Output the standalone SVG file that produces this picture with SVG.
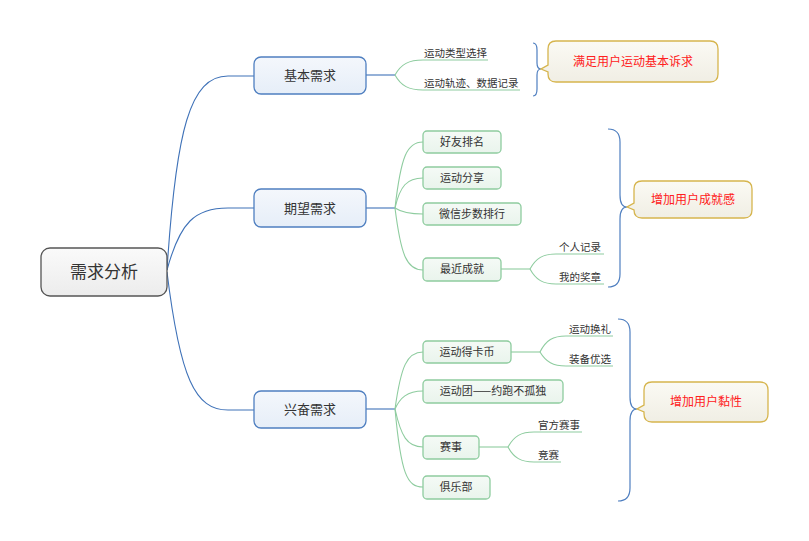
<svg xmlns="http://www.w3.org/2000/svg" width="809" height="541" viewBox="0 0 809 541">
<defs>
<linearGradient id="gRoot" x1="0" y1="0" x2="0" y2="1"><stop offset="0" stop-color="#fafafa"/><stop offset="1" stop-color="#ececec"/></linearGradient>
<linearGradient id="gMain" x1="0" y1="0" x2="0" y2="1"><stop offset="0" stop-color="#f4f7fc"/><stop offset="1" stop-color="#e6eef8"/></linearGradient>
<linearGradient id="gSub" x1="0" y1="0" x2="0" y2="1"><stop offset="0" stop-color="#f5faf6"/><stop offset="1" stop-color="#e9f4ec"/></linearGradient>
<linearGradient id="gNote" x1="0" y1="0" x2="0" y2="1"><stop offset="0" stop-color="#fbfaf4"/><stop offset="1" stop-color="#f0eee4"/></linearGradient>
</defs>
<style>
text{font-family:"Noto Sans CJK SC","Microsoft YaHei",sans-serif;fill:#333}
.root{fill:url(#gRoot);stroke:#555;stroke-width:1.3}
.main{fill:url(#gMain);stroke:#4f7fc0;stroke-width:1.3}
.sub{fill:url(#gSub);stroke:#8ecc9f;stroke-width:1.3}
.note{fill:url(#gNote);stroke:#d6b54e;stroke-width:1.3}
.l1{fill:none;stroke:#3f72b8;stroke-width:1.1}
.l2{fill:none;stroke:#8ecc9f;stroke-width:1.1}
.br{fill:none;stroke:#4f7fc0;stroke-width:1.2}
.t17{font-size:17px;text-anchor:middle}
.t13{font-size:13px;text-anchor:middle}
.t11{font-size:11px;text-anchor:middle}
.t10{font-size:10.5px}
.red{font-size:12px;text-anchor:middle;fill:#ff2020}
</style>
<rect width="809" height="541" fill="#fff"/>
<g id="connectors">
<path class="l1" d="M167,270 C176,130 190,76 228,76 L254,76"/>
<path class="l1" d="M167,270 C180,222 195,208 228,208 L254,208"/>
<path class="l1" d="M167,272 C180,378 195,410 228,410 L254,410"/>
<path class="l1" d="M366,75 L395,75"/>
<path class="l1" d="M366,208 L395,208"/>
<path class="l1" d="M366,409 L395,409"/>
<path class="l2" d="M395,75 C401,64 409,60 423,60 L488,60"/>
<path class="l2" d="M395,75 C401,86 409,90 423,90 L520,90"/>
<path class="l2" d="M395,208 C401,156 407,142 423,142"/>
<path class="l2" d="M395,208 C400,186 407,178 423,178"/>
<path class="l2" d="M395,208 C401,212 408,214 423,214"/>
<path class="l2" d="M395,208 C401,256 407,270 423,270"/>
<path class="l2" d="M501,269 L530,269"/>
<path class="l2" d="M530,269 C536,258 543,254 556,254 L604,254"/>
<path class="l2" d="M530,269 C536,280 543,284 556,284 L604,284"/>
<path class="l2" d="M395,409 C401,366 407,352 423,352"/>
<path class="l2" d="M395,409 C400,398 407,391 423,391"/>
<path class="l2" d="M395,409 C401,436 407,447 423,447"/>
<path class="l2" d="M395,409 C401,474 407,487 423,487"/>
<path class="l2" d="M511,352 L540,352"/>
<path class="l2" d="M540,352 C546,340 553,336 566,336 L613,336"/>
<path class="l2" d="M540,352 C546,362 553,366 566,366 L613,366"/>
<path class="l2" d="M479,447 L508,447"/>
<path class="l2" d="M508,447 C514,436 521,432 534,432 L582,432"/>
<path class="l2" d="M508,447 C514,458 521,462 534,462 L561,462"/>
</g>
<g id="brackets">
<path class="br" d="M533,43 Q537,43 537,50 L537,63 Q537,69 541,69 Q537,69 537,75 L537,89 Q537,96 533,96"/>
<path class="br" d="M608,129 Q620,129 620,142 L620,195 Q620,207 627,207 Q620,207 620,219 L620,274 Q620,287 608,287"/>
<path class="br" d="M618,319 Q630,319 630,332 L630,397 Q630,409 637,409 Q630,409 630,421 L630,488 Q630,501 618,501"/>
</g>
<g id="root"><rect class="root" x="41" y="248" width="126" height="48" rx="9"/><text class="t17" x="104" y="278">需求分析</text></g>
<g id="n-basic"><rect class="main" x="254" y="57" width="112" height="37" rx="7"/><text class="t13" x="310" y="80">基本需求</text></g>
<g id="n-expect"><rect class="main" x="254" y="189" width="112" height="38" rx="7"/><text class="t13" x="310" y="213">期望需求</text></g>
<g id="n-excite"><rect class="main" x="254" y="391" width="112" height="37" rx="7"/><text class="t13" x="310" y="414">兴奋需求</text></g>
<g id="l-type"><text class="t10" x="424" y="57">运动类型选择</text></g>
<g id="l-track"><text class="t10" x="424" y="87">运动轨迹、数据记录</text></g>
<g id="n-friend"><rect class="sub" x="423" y="131" width="78" height="22" rx="4"/><text class="t11" x="462" y="146">好友排名</text></g>
<g id="n-share"><rect class="sub" x="423" y="167" width="78" height="22" rx="4"/><text class="t11" x="462" y="182">运动分享</text></g>
<g id="n-wechat"><rect class="sub" x="423" y="203" width="98" height="22" rx="4"/><text class="t11" x="472" y="218">微信步数排行</text></g>
<g id="n-recent"><rect class="sub" x="423" y="258" width="78" height="23" rx="4"/><text class="t11" x="462" y="273">最近成就</text></g>
<g id="l-personal"><text class="t10" x="559" y="251">个人记录</text></g>
<g id="l-medal"><text class="t10" x="559" y="281">我的奖章</text></g>
<g id="n-coin"><rect class="sub" x="423" y="341" width="88" height="22" rx="4"/><text class="t11" x="467" y="356">运动得卡币</text></g>
<g id="n-team"><rect class="sub" x="423" y="380" width="140" height="23" rx="4"/><text class="t11" x="493" y="395">运动团——约跑不孤独</text></g>
<g id="n-match"><rect class="sub" x="423" y="436" width="56" height="23" rx="4"/><text class="t11" x="451" y="451">赛事</text></g>
<g id="n-club"><rect class="sub" x="423" y="476" width="67" height="23" rx="4"/><text class="t11" x="456" y="491">俱乐部</text></g>
<g id="l-gift"><text class="t10" x="569" y="333">运动换礼</text></g>
<g id="l-gear"><text class="t10" x="569" y="363">装备优选</text></g>
<g id="l-official"><text class="t10" x="538" y="429">官方赛事</text></g>
<g id="l-compete"><text class="t10" x="538" y="459">竞赛</text></g>
<g id="note1"><path class="note" d="M556,41 L710,41 Q718,41 718,49 L718,74 Q718,82 710,82 L556,82 Q548,82 548,74 L548,72 L541,69 L548,65 L548,49 Q548,41 556,41 Z"/><text class="red" x="633" y="66">满足用户运动基本诉求</text></g>
<g id="note2"><path class="note" d="M642,181 L744,181 Q752,181 752,189 L752,210 Q752,218 744,218 L642,218 Q634,218 634,210 L634,210 L627,207 L634,203 L634,189 Q634,181 642,181 Z"/><text class="red" x="693" y="204">增加用户成就感</text></g>
<g id="note3"><path class="note" d="M652,382 L760,382 Q768,382 768,390 L768,414 Q768,422 760,422 L652,422 Q644,422 644,414 L644,412 L637,409 L644,405 L644,390 Q644,382 652,382 Z"/><text class="red" x="706" y="406">增加用户黏性</text></g>
</svg>
